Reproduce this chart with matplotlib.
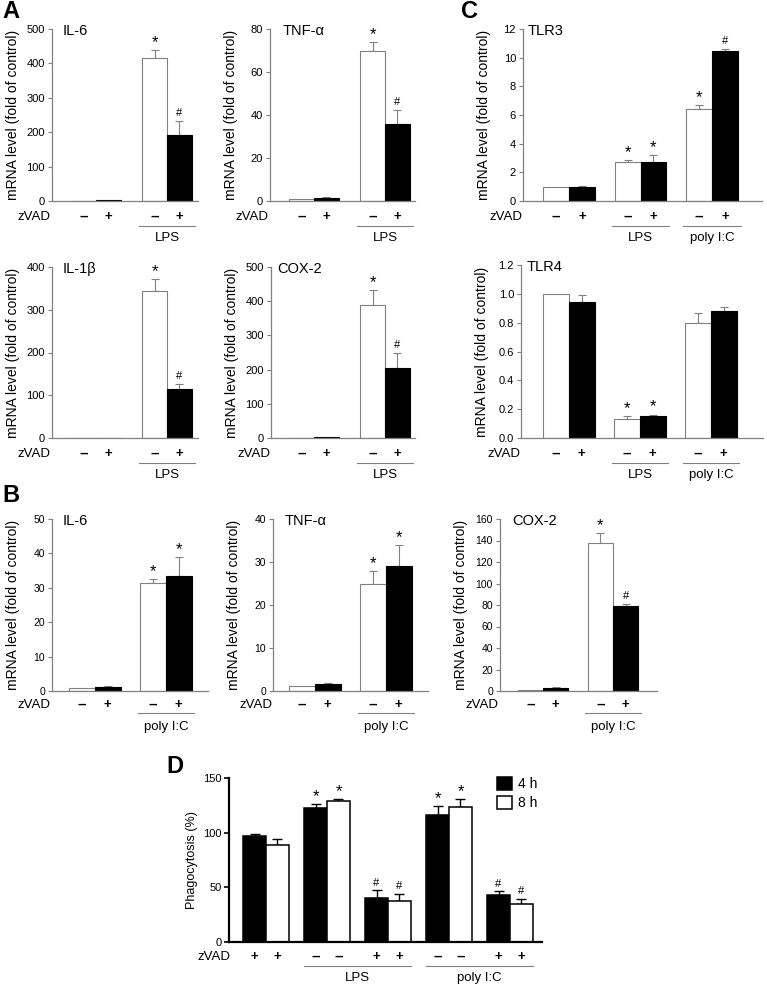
import matplotlib
matplotlib.use('Agg')
import matplotlib.pyplot as plt
import numpy as np
from matplotlib.transforms import blended_transform_factory
from matplotlib.patches import Patch
from matplotlib.ticker import FormatStrFormatter

plt.rcParams['font.family'] = ['Liberation Sans', 'DejaVu Sans']

# --- data (fold of control, bars ordered white/black per group) ---
a_il6 = [1, 1.5, 415, 192]
a_il6_err = [0, 0, 25, 42]
a_il6_sig = ['', '', '*', '#']

a_tnf = [1, 1.5, 70, 36]
a_tnf_err = [0, 0.4, 4, 6.5]
a_tnf_sig = ['', '', '*', '#']

a_il1b = [1, 1, 345, 115]
a_il1b_err = [0, 0, 26, 12]
a_il1b_sig = ['', '', '*', '#']

a_cox2 = [1, 3, 390, 205]
a_cox2_err = [0, 0, 43, 43]
a_cox2_sig = ['', '', '*', '#']

c_tlr3 = [1.0, 1.0, 2.7, 2.7, 6.45, 10.5]
c_tlr3_err = [0, 0.05, 0.15, 0.5, 0.22, 0.12]
c_tlr3_sig = ['', '', '*', '*', '*', '#']

c_tlr4 = [1.0, 0.945, 0.135, 0.15, 0.796, 0.884]
c_tlr4_err = [0, 0.05, 0.015, 0.013, 0.07, 0.028]
c_tlr4_sig = ['', '', '*', '*', '', '']

b_il6 = [1.0, 1.2, 31.5, 33.5]
b_il6_err = [0, 0.2, 1.1, 5.5]
b_il6_sig = ['', '', '*', '*']

b_tnf = [1.1, 1.55, 25, 29]
b_tnf_err = [0, 0.35, 2.9, 5.0]
b_tnf_sig = ['', '', '*', '*']

b_cox2 = [1.2, 2.5, 138, 79.5]
b_cox2_err = [0, 0.9, 9, 1.2]
b_cox2_sig = ['', '', '*', '#']

# phagocytosis (%)
d_4h = [96.6, 122.6, 40.2, 116.5, 42.7]
d_4h_err = [2.4, 3.9, 7.1, 8.2, 3.6]
d_8h = [88.7, 128.7, 37.2, 123.2, 34.8]
d_8h_err = [5.2, 2.3, 7.0, 7.3, 4.5]
d_sig = ['', '*', '#', '*', '#']
d_zvad = ['+', '–', '+', '–', '+']
d_groups = [('LPS', 1, 2), ('poly I:C', 3, 4)]

W, H = 767, 990
GRAY = '#808080'
fig = plt.figure(figsize=(W / 100, H / 100), dpi=100)


def fy(py):
    return 1 - py / H


def sign_text(ax, x, y, s, trans):
    # zVAD row: dashes drawn a bit bigger so they read like the original
    ax.text(x, y, s, transform=trans, ha='center', va='center',
            fontsize=11 if s == '–' else 9.5, weight='bold')


def mrna_panel(box, c0, sp, width, vals, errs, sigs, ymax, ystep, title, tx,
               groups, rows, tick_fs=8, fmt=None):
    l, t, r, b = box
    ax = fig.add_axes([l / W, 1 - b / H, (r - l) / W, (b - t) / H])
    n = len(vals) // 2
    centers = np.arange(n)
    xs = np.ravel(np.column_stack([centers - width / 2, centers + width / 2]))
    ax.bar(xs, vals, width, color=['white', 'black'] * n,
           edgecolor=[GRAY, 'black'] * n, linewidth=0.8, zorder=2)
    for x, v, e, s in zip(xs, vals, errs, sigs):
        if e > 0:
            ax.errorbar(x, v, yerr=[[0], [e]], fmt='none', ecolor=GRAY,
                        elinewidth=0.8, capsize=3, capthick=0.8, zorder=1)
        if s:
            ax.annotate(s, (x, v + e), xytext=(0, 0 if s == '*' else 2),
                        textcoords='offset points', ha='center', va='bottom',
                        fontsize=12 if s == '*' else 8)
    ax.set_xlim((l - c0) / sp, (r - c0) / sp)
    ax.set_ylim(0, ymax)
    ax.set_yticks(np.arange(0, ymax + ystep / 2, ystep))
    if fmt:
        ax.yaxis.set_major_formatter(FormatStrFormatter(fmt))
    ax.set_xticks([])
    for side in ['top', 'right']:
        ax.spines[side].set_visible(False)
    for side in ['left', 'bottom']:
        ax.spines[side].set_color(GRAY)
        ax.spines[side].set_linewidth(0.9)
    ax.tick_params(axis='y', colors=GRAY, labelcolor='black', length=3,
                   width=0.8, pad=2, labelsize=tick_fs)
    ax.patch.set_visible(False)

    fig.text((l + tx) / W, fy(t - 5), title, ha='left', va='top', fontsize=10.5)
    fig.text((l - 39) / W, fy((t + b) / 2), 'mRNA level (fold of control)',
             rotation=90, ha='center', va='center', fontsize=10)

    trans = blended_transform_factory(ax.transData, fig.transFigure)
    dz, dl, dt = rows
    fig.text((l - 1) / W, fy(b + dz), 'zVAD', ha='right', va='center', fontsize=9.5)
    for i, x in enumerate(xs):
        sign_text(ax, x, fy(b + dz), '–' if i % 2 == 0 else '+', trans)
    for c, g in zip(centers, groups):
        if g:
            ax.plot([c - width - 0.04, c + width + 0.04], [fy(b + dl)] * 2,
                    transform=trans, color=GRAY, lw=0.8, clip_on=False)
            ax.text(c, fy(b + dt), g, transform=trans, ha='center',
                    va='center', fontsize=9.5)
    return ax


row_a = (16, 25, 37)
row_b = (14, 22, 36)

# A
mrna_panel((52, 29, 198, 201), 96, 71, 0.35, a_il6, a_il6_err, a_il6_sig,
           500, 100, 'IL-6', 11, ['', 'LPS'], row_a)
mrna_panel((270, 29, 415, 201), 314, 71, 0.35, a_tnf, a_tnf_err, a_tnf_sig,
           80, 20, 'TNF-α', 13, ['', 'LPS'], row_a)
mrna_panel((52, 267, 198, 438), 96, 71, 0.35, a_il1b, a_il1b_err, a_il1b_sig,
           400, 100, 'IL-1β', 11, ['', 'LPS'], row_a)
mrna_panel((271, 267, 415, 438), 314, 71, 0.35, a_cox2, a_cox2_err, a_cox2_sig,
           500, 100, 'COX-2', 6, ['', 'LPS'], row_a)

# C
mrna_panel((523, 29, 762, 201), 569, 71.5, 0.36, c_tlr3, c_tlr3_err, c_tlr3_sig,
           12, 2, 'TLR3', 5, ['', 'LPS', 'poly I:C'], row_a)
mrna_panel((521, 265, 763, 438), 569, 71, 0.36, c_tlr4, c_tlr4_err, c_tlr4_sig,
           1.2, 0.2, 'TLR4', 6, ['', 'LPS', 'poly I:C'], row_a, fmt='%.1f')

# B
mrna_panel((52, 519, 208, 691), 95, 71, 0.36, b_il6, b_il6_err, b_il6_sig,
           50, 10, 'IL-6', 11, ['', 'poly I:C'], row_b, tick_fs=7.5)
mrna_panel((273, 519, 428, 691), 315, 71, 0.36, b_tnf, b_tnf_err, b_tnf_sig,
           40, 10, 'TNF-α', 12, ['', 'poly I:C'], row_b, tick_fs=7.5)
mrna_panel((500, 519, 657, 691), 543, 70, 0.36, b_cox2, b_cox2_err, b_cox2_sig,
           160, 20, 'COX-2', 12, ['', 'poly I:C'], row_b, tick_fs=7.5)

# D
l, t, r, b = 229, 778, 542, 942
c0, sp, w = 266, 61, 0.377
ax = fig.add_axes([l / W, 1 - b / H, (r - l) / W, (b - t) / H])
xg = np.arange(len(d_4h))
ax.bar(xg - w / 2, d_4h, w, color='black', edgecolor='black', lw=1.1, zorder=2)
ax.bar(xg + w / 2, d_8h, w, color='white', edgecolor='black', lw=1.1, zorder=2)
ax.errorbar(xg - w / 2, d_4h, yerr=[np.zeros(len(d_4h)), d_4h_err], fmt='none',
            ecolor='black', elinewidth=1, capsize=3.5, capthick=1, zorder=1)
ax.errorbar(xg + w / 2, d_8h, yerr=[np.zeros(len(d_8h)), d_8h_err], fmt='none',
            ecolor='black', elinewidth=1, capsize=3.5, capthick=1, zorder=1)
for i, s in enumerate(d_sig):
    if s:
        for x, v, e in [(xg[i] - w / 2, d_4h[i], d_4h_err[i]),
                        (xg[i] + w / 2, d_8h[i], d_8h_err[i])]:
            ax.annotate(s, (x, v + e), xytext=(0, 0 if s == '*' else 2),
                        textcoords='offset points', ha='center', va='bottom',
                        fontsize=12 if s == '*' else 8)
ax.set_xlim((l - c0) / sp, (r - c0) / sp)
ax.set_ylim(0, 150)
ax.set_yticks([0, 50, 100, 150])
ax.set_xticks([])
for side in ['top', 'right']:
    ax.spines[side].set_visible(False)
for side in ['left', 'bottom']:
    ax.spines[side].set_linewidth(1.6)
ax.tick_params(axis='y', length=3.5, width=1.2, pad=2, labelsize=8)
ax.patch.set_visible(False)
fig.text((l - 37) / W, fy((t + b) / 2), 'Phagocytosis (%)', rotation=90,
         ha='center', va='center', fontsize=9)
ax.legend([Patch(facecolor='black', edgecolor='black', lw=1.1),
           Patch(facecolor='white', edgecolor='black', lw=1.1)], ['4 h', '8 h'],
          loc='upper left', bbox_to_anchor=(497 / W, fy(777)),
          bbox_transform=fig.transFigure, frameon=False, fontsize=10,
          handlelength=1.1, handleheight=1.1, handletextpad=0.4,
          labelspacing=0.3, borderpad=0, borderaxespad=0)
trans = blended_transform_factory(ax.transData, fig.transFigure)
fig.text((l + 1) / W, fy(b + 15), 'zVAD', ha='right', va='center', fontsize=9.5)
for i, z in enumerate(d_zvad):
    for x in [xg[i] - w / 2, xg[i] + w / 2]:
        sign_text(ax, x, fy(b + 15), z, trans)
for name, g0, g1 in d_groups:
    ax.plot([g0 - w, g1 + w], [fy(b + 24)] * 2, transform=trans, color=GRAY,
            lw=0.8, clip_on=False)
    ax.text((g0 + g1) / 2, fy(b + 36), name, transform=trans, ha='center',
            va='center', fontsize=9.5)

# panel letters
for letter, px, py in [('A', 2, 0), ('C', 461, 0), ('B', 2, 484), ('D', 166, 755)]:
    fig.text(px / W, fy(py), letter, ha='left', va='top', fontsize=17,
             weight='bold')

fig.savefig('out.png', dpi=100)
